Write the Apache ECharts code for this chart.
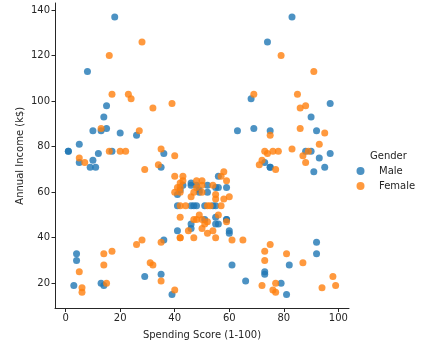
<!DOCTYPE html>
<html><head><meta charset="utf-8">
<script src="https://cdn.jsdelivr.net/npm/echarts@6/dist/echarts.min.js"></script>
<style>html,body{margin:0;padding:0;background:#fff}#c{width:427px;height:342px}</style>
</head><body><div id="c"></div>
<script>
// Data: [annual income (k$), spending score]
var maleIncome = [15,15,19,19,20,20,21,23,24,24,25,28,28,30,33,33,38,39,42,43,43,44,46,46,46,48,48,48,49,54,54,54,54,54,54,54,59,60,60,61,61,62,62,62,63,63,63,63,64,67,69,71,71,71,71,71,71,73,73,74,75,77,77,77,78,78,78,78,78,81,85,86,87,87,87,87,87,88,88,93,93,98,99,101,113,126,137,137];
var maleScore  = [39,81,3,14,13,79,66,29,35,73,73,82,61,4,4,92,92,36,60,60,41,46,46,56,55,51,59,59,55,47,54,48,51,55,41,46,41,49,52,42,49,59,55,56,46,43,48,52,46,56,91,35,95,11,75,9,75,5,73,10,93,12,97,36,90,17,88,1,1,5,26,20,63,13,75,10,92,15,69,14,90,15,97,68,8,74,18,83];
var femaleIncome = [16,16,17,17,18,18,19,19,20,20,21,23,25,28,28,29,29,30,33,33,34,34,37,37,38,39,39,39,40,40,40,40,42,43,43,44,46,47,47,48,48,48,49,50,50,54,54,54,54,54,57,57,58,58,59,60,60,60,60,62,62,62,63,63,64,65,65,65,65,67,67,67,69,70,70,72,72,73,73,74,75,76,76,77,78,78,78,78,78,78,78,79,79,81,85,86,87,88,88,97,97,98,99,101,103,103,103,103,113,120,120,126];
var femaleScore  = [6,77,40,76,6,94,72,99,15,77,35,98,5,14,32,31,87,73,14,81,17,73,26,75,35,61,28,65,55,47,42,42,52,54,45,50,51,52,59,50,48,47,42,49,56,53,52,42,44,57,58,55,60,46,55,40,42,47,50,41,48,42,50,54,42,48,50,43,59,43,57,40,58,29,77,34,71,88,7,72,5,40,87,74,22,20,76,16,89,78,73,35,83,93,75,95,27,13,86,32,86,88,39,24,17,85,23,69,91,16,79,28];
var seriesNames = ['Male','Female'];
var legendTitle = 'Gender';
var xTicks = [0,20,40,60,80,100];
var yTicks = [20,40,60,80,100,120,140];
var xLabel = 'Spending Score (1-100)';
var yLabel = 'Annual Income (k$)';

function pts(xs, ys){ return xs.map(function(v,i){ return [ys[i], v]; }); }
var FONT = 'DejaVu Sans';
var TXT = '#262626';
var chart = echarts.init(document.getElementById('c'), null, {renderer:'canvas'});
chart.setOption({
  animation:false,
  backgroundColor:'#fff',
  title:{text:legendTitle, left:370, top:151, textStyle:{fontFamily:FONT,fontSize:10,fontWeight:'normal',color:TXT}, padding:0},
  legend:{orient:'vertical', left:356.5, top:166, icon:'circle', itemWidth:17, itemHeight:8, itemGap:5, padding:0,
    textStyle:{fontFamily:FONT,fontSize:10,color:TXT,padding:[0,0,0,5]}, data:seriesNames},
  grid:{left:55, right:78, top:3, bottom:33.5, containLabel:false, outerBoundsMode:'none'},
  xAxis:{type:'value', min:-3.9, max:103.9, name:xLabel, nameLocation:'middle', nameGap:22, nameMoveOverlap:false,
    nameTextStyle:{fontFamily:FONT,fontSize:10,color:TXT},
    splitLine:{show:false},
    axisLine:{onZero:false, lineStyle:{color:'#262626',width:1}},
    axisTick:{show:true, length:3.5, lineStyle:{color:'#262626'}, customValues:xTicks},
    axisLabel:{fontFamily:FONT,fontSize:10,color:TXT,margin:5, customValues:xTicks, showMinLabel:true, showMaxLabel:true}},
  yAxis:{type:'value', min:8.9, max:143.1, name:yLabel, nameLocation:'middle', nameGap:30, nameMoveOverlap:false,
    nameTextStyle:{fontFamily:FONT,fontSize:10,color:TXT},
    splitLine:{show:false},
    axisLine:{show:true, onZero:false, lineStyle:{color:'#262626',width:1}},
    axisTick:{show:true, length:3.5, lineStyle:{color:'#262626'}, customValues:yTicks},
    axisLabel:{fontFamily:FONT,fontSize:10,color:TXT,margin:5, customValues:yTicks}},
  series:[
    {name:seriesNames[0], type:'scatter', symbolSize:7, data:pts(maleIncome, maleScore),
      itemStyle:{color:'#1f77b4', opacity:0.8}},
    {name:seriesNames[1], type:'scatter', symbolSize:7, data:pts(femaleIncome, femaleScore),
      itemStyle:{color:'#ff7f0e', opacity:0.8}}
  ]
});
</script></body></html>
